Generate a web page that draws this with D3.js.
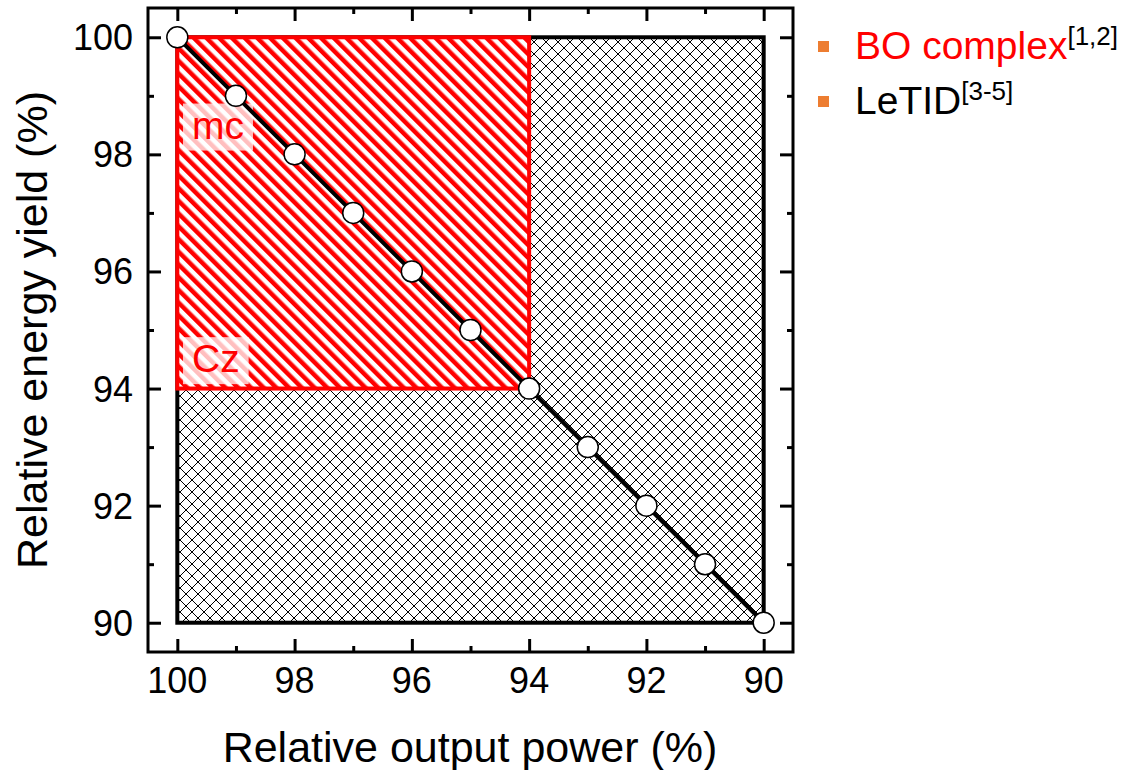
<!DOCTYPE html>
<html>
<head>
<meta charset="utf-8">
<script src="https://cdn.jsdelivr.net/npm/d3@7"></script>
<style>
  html, body { margin: 0; padding: 0; background: #fff; }
  svg text { font-family: "Liberation Sans", Arial, sans-serif; }
</style>
</head>
<body>
<div id="chart"></div>
<script>
(function () {
    // data
    const powerValues = [100, 99, 98, 97, 96, 95, 94, 93, 92, 91, 90];
    const yieldValues = [100, 99, 98, 97, 96, 95, 94, 93, 92, 91, 90];
    const xTicks = [100, 98, 96, 94, 92, 90];
    const yTicks = [90, 92, 94, 96, 98, 100];
    const minorTicks = [99, 97, 95, 93, 91];
    const totalBox = [100, 90];      // black hatched region
    const boBox = [100, 94];         // red striped region
    const legendItems = [
        { label: "BO complex", sup: "[1,2]", color: "#ff0000" },
        { label: "LeTID", sup: "[3-5]", color: "#000000" }
    ];
    const regionLabels = [
        { text: "mc", y: 98.27 },
        { text: "Cz", y: 94.28 }
    ];

    const width = 1126, height = 770;
    const frame = { left: 148, right: 793, top: 8, bottom: 652 };

    const svg = d3.select("#chart").append("svg")
        .attr("width", width)
        .attr("height", height);

    const x = d3.scaleLinear().domain([100.5, 89.5]).range([frame.left, frame.right]);
    const y = d3.scaleLinear().domain([89.5, 100.5]).range([frame.bottom, frame.top]);

    // patterns
    const defs = svg.append("defs");
    // pixel crosshatch, drawn as 1px steps so it stays crisp
    const cs = 12;
    const cross = defs.append("pattern")
        .attr("id", "cross")
        .attr("patternUnits", "userSpaceOnUse")
        .attr("width", cs).attr("height", cs);
    cross.append("rect").attr("width", cs).attr("height", cs).attr("fill", "#fff");
    cross.selectAll(".px")
        .data(d3.range(cs).flatMap(i => [[i, i], [cs - 1 - i, i]]))
        .enter().append("rect")
        .attr("x", d => d[0]).attr("y", d => d[1])
        .attr("width", 1).attr("height", 1)
        .attr("fill", "#000");

    const sp = 9;
    const stripes = defs.append("pattern")
        .attr("id", "stripes")
        .attr("patternUnits", "userSpaceOnUse")
        .attr("width", sp).attr("height", sp)
        .attr("patternTransform", "rotate(-45)");
    stripes.append("rect").attr("width", sp).attr("height", sp).attr("fill", "#fff");
    stripes.append("rect").attr("width", sp / 2).attr("height", sp).attr("fill", "#ff0000");

    // black hatched region
    svg.append("rect")
        .attr("x", x(totalBox[0])).attr("y", y(totalBox[0]))
        .attr("width", x(totalBox[1]) - x(totalBox[0]))
        .attr("height", y(totalBox[1]) - y(totalBox[0]))
        .attr("fill", "url(#cross)")
        .attr("stroke", "#000").attr("stroke-width", 4);

    // red striped region
    svg.append("rect")
        .attr("x", x(boBox[0])).attr("y", y(boBox[0]))
        .attr("width", x(boBox[1]) - x(boBox[0]))
        .attr("height", y(boBox[1]) - y(boBox[0]))
        .attr("fill", "url(#stripes)")
        .attr("stroke", "#ff0000").attr("stroke-width", 4);

    // region labels with translucent background
    regionLabels.forEach(d => {
        const g = svg.append("g");
        const t = g.append("text")
            .attr("x", x(99.75)).attr("y", y(d.y))
            .attr("fill", "#ff0000")
            .style("font-size", "39px")
            .text(d.text);
        const bb = t.node().getBBox();
        g.insert("rect", "text")
            .attr("x", bb.x - 9).attr("y", bb.y)
            .attr("width", bb.width + 18).attr("height", bb.height + 4)
            .attr("fill", "rgba(255,255,255,0.75)");
    });

    // connecting line and points
    const pts = powerValues.map((p, i) => ({ p: p, e: yieldValues[i] }));
    svg.append("path")
        .datum(pts)
        .attr("d", d3.line().x(d => x(d.p)).y(d => y(d.e)))
        .attr("fill", "none")
        .attr("stroke", "#000")
        .attr("stroke-width", 4);
    svg.selectAll(".pt")
        .data(pts)
        .enter().append("circle")
        .attr("class", "pt")
        .attr("cx", d => x(d.p)).attr("cy", d => y(d.e))
        .attr("r", 10.5)
        .attr("fill", "#fff")
        .attr("stroke", "#000")
        .attr("stroke-width", 1.5);

    // frame + inward ticks on all sides
    const axisW = 3;
    const axes = [
        { gen: d3.axisBottom(x), tr: `translate(0,${frame.bottom})` },
        { gen: d3.axisTop(x), tr: `translate(0,${frame.top})` },
        { gen: d3.axisLeft(y), tr: `translate(${frame.left},0)` },
        { gen: d3.axisRight(y), tr: `translate(${frame.right},0)` }
    ];
    axes.forEach((a, i) => {
        const isX = i < 2;
        const major = svg.append("g")
            .attr("transform", a.tr)
            .call(a.gen.tickValues(isX ? xTicks : yTicks)
                .tickSizeInner(-13).tickSizeOuter(0).tickFormat(""));
        major.select(".domain").remove();
        major.selectAll(".tick line").attr("stroke-width", axisW);
        const minor = svg.append("g")
            .attr("transform", a.tr)
            .call(a.gen.tickValues(minorTicks).tickSizeInner(-6).tickSizeOuter(0).tickFormat(""));
        minor.select(".domain").remove();
        minor.selectAll(".tick line").attr("stroke-width", axisW);
    });
    svg.append("rect")
        .attr("x", frame.left).attr("y", frame.top)
        .attr("width", frame.right - frame.left)
        .attr("height", frame.bottom - frame.top)
        .attr("fill", "none")
        .attr("stroke", "#000").attr("stroke-width", axisW);

    // tick labels
    svg.selectAll(".xl").data(xTicks).enter().append("text")
        .attr("x", d => x(d)).attr("y", 693)
        .attr("text-anchor", "middle")
        .style("font-size", "36px")
        .text(d => d);
    svg.selectAll(".yl").data(yTicks).enter().append("text")
        .attr("x", 133).attr("y", d => y(d))
        .attr("dy", "0.36em")
        .attr("text-anchor", "end")
        .style("font-size", "36px")
        .text(d => d);

    // axis titles
    svg.append("text")
        .attr("x", 470).attr("y", 762)
        .attr("text-anchor", "middle")
        .style("font-size", "43px")
        .text("Relative output power (%)");
    svg.append("text")
        .attr("transform", `translate(47,${(frame.top + frame.bottom) / 2}) rotate(-90)`)
        .attr("text-anchor", "middle")
        .style("font-size", "43px")
        .text("Relative energy yield (%)");

    // legend
    const legend = svg.selectAll(".lg").data(legendItems).enter().append("g")
        .attr("transform", (d, i) => `translate(818,${41 + i * 55})`);
    legend.append("rect")
        .attr("width", 11).attr("height", 11)
        .attr("fill", "#ed7d31");
    const lt = legend.append("text")
        .attr("x", 37).attr("y", 18)
        .style("font-size", "39px");
    lt.append("tspan").attr("fill", d => d.color).text(d => d.label);
    lt.append("tspan").attr("fill", "#000")
        .attr("dy", -14)
        .style("font-size", "26px")
        .text(d => d.sup);
})();
</script>
</body>
</html>
